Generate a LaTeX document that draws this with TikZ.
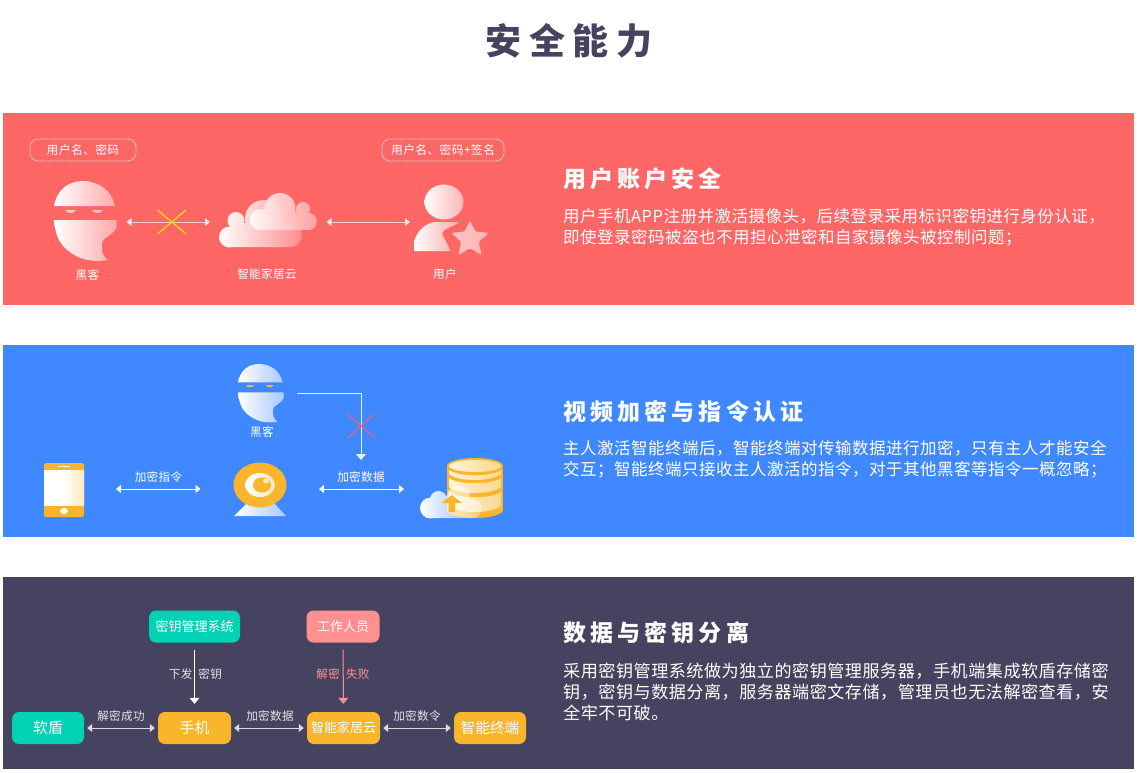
\documentclass[tikz,border=0pt]{standalone}
\usepackage{fontspec}
\setmainfont{Noto Sans CJK SC}
\newfontfamily\spacedfont[LetterSpace=3]{Noto Sans CJK SC}
\newfontfamily\headfont[LetterSpace=18]{Noto Sans CJK SC}
\newfontfamily\titlefont[LetterSpace=22]{Noto Sans CJK SC}
\usetikzlibrary{positioning, arrows.meta, fadings}
\definecolor{redpanel}{HTML}{FF6666}
\definecolor{bluepanel}{HTML}{3F88FF}
\definecolor{darkpanel}{HTML}{45435F}
\definecolor{tealbox}{HTML}{00D2B4}
\definecolor{orangebox}{HTML}{F9B52B}
\definecolor{pinkbox}{HTML}{FF9090}
\definecolor{pinklight}{HTML}{FFA8A8}
\definecolor{pinkeye}{HTML}{FFC4C4}
\definecolor{pinkfade}{HTML}{FFB4B4}
\definecolor{pinkdeep}{HTML}{FF8C8C}
\definecolor{bluelight}{HTML}{A9C9FF}
\definecolor{creamlight}{HTML}{FFF3D6}
\definecolor{creamdark}{HTML}{FBD88E}
\definecolor{creamface}{HTML}{FDE7BC}
\definecolor{crossyellow}{HTML}{FFE000}
\definecolor{crossred}{HTML}{FF5A6E}
\tikzfading[name=cloudfade, left color=transparent!0, right color=transparent!65]
\tikzset{
    heading/.style={anchor=west, inner sep=0, text=white, font=\fontsize{23}{26}\selectfont\headfont\bfseries},
    bodytext/.style={anchor=west, inner sep=0, text=white, align=left, font=\fontsize{16.5}{21}\selectfont\spacedfont},
    widetext/.style={anchor=west, inner sep=0, text=white, align=left, font=\fontsize{17.1}{21}\selectfont\spacedfont},
    smalltext/.style={inner sep=0, text=white, font=\fontsize{11.6}{13}\selectfont\spacedfont},
    dashbox/.style={draw=white, densely dotted, line width=.9pt, rounded corners=8pt, minimum height=22pt, inner sep=0, text=white, font=\fontsize{11.8}{13}\selectfont\spacedfont},
    flowbox/.style={rounded corners=7pt, minimum height=32pt, inner sep=0, text=white},
    biarrow/.style={{Triangle[width=8pt,length=5pt]}-{Triangle[width=8pt,length=5pt]}, line width=.8pt},
    downarrow/.style={-{Triangle[width=10pt,length=6pt]}, line width=1pt},
    pics/hacker/.style n args={2}{code={
        \shade[left color=white, right color=#1]
            (0,25) .. controls (3,8) and (15,0) .. (29,0) .. controls (45,0) and (58,10) .. (61,25) -- cycle
            (0,39) -- (62.5,39) -- (62.5,47) .. controls (58,55) and (49,56) .. (48,62) .. controls (47,70) and (49,76) .. (54,79) .. controls (42,81) and (25,81) .. (10,66) .. controls (3,58) and (1,50) .. (0,39) -- cycle;
        \fill[#2] (11,29) .. controls (13,33) and (20,33) .. (22,29) -- cycle;
        \fill[#2] (38,29) .. controls (40,33) and (47,33) .. (49,29) -- cycle;
    }},
}
\begin{document}
\begin{tikzpicture}[x=1pt, y=-1pt]
    \useasboundingbox (0,0) rectangle (1140,772);
    \node (title) at (569,41) [inner sep=0, text=darkpanel, font=\fontsize{36}{40}\selectfont\titlefont\bfseries] {安全能力};

    % account panel
    \fill[redpanel] (3,113) rectangle (1134,305);
    \node (acchead) at (563,179) [heading] {用户账户安全};
    \node (acctext) at (563,227.5) [bodytext] {用户手机APP注册并激活摄像头，后续登录采用标识密钥进行身份认证，\\即使登录密码被盗也不用担心泄密和自家摄像头被控制问题；};
    \node (hackerpass) at (83,150) [dashbox, minimum width=106pt] {用户名、密码};
    \node (userpass) at (443,150) [dashbox, minimum width=122pt] {用户名、密码+签名};
    \pic at (54,181) {hacker={pinklight}{pinkeye}};
    \node (hackerlabel) at (87.5,275) [smalltext] {黑客};
    \shade[left color=white, right color=pinkdeep]
        (229.5,237) circle [radius=10.5] (236,220.5) circle [radius=8.5] (263.5,218.5) circle [radius=18.5] (290,235) circle [radius=12]
        (290,223) rectangle (229.5,247);
    \shade[left color=white, right color=pinklight, opacity=.9]
        (260.5,219.5) circle [radius=10.5] (280,208.5) circle [radius=15.5] (303,209) circle [radius=7] (308.5,221.5) circle [radius=8.5]
        (308.5,212) rectangle (260.5,230);
    \node (cloudlabel) at (267,274.5) [smalltext] {智能家居云};
    \shade[left color=white, right color=pinkfade] (444,202) ellipse [x radius=19.5, y radius=17.5];
    \shade[left color=white, right color=pinklight]
        (414,251) -- (414,243) .. controls (416,230) and (428,222) .. (436,222) -- (459,222) .. controls (452,228) and (444,228) .. (442,233) .. controls (444,240) and (449,245) .. (450,251) -- cycle;
    \shade[left color=pinkeye, right color=pinkfade, rounded corners=2.5pt]
        (470,220) -- (475.3,231.7) -- (489,232.8) -- (478.6,241.8) -- (481.8,255.2) -- (470,248) -- (458.2,255.2) -- (461.4,241.8) -- (451,232.8) -- (464.7,231.7) -- cycle;
    \node (userlabel) at (445,274) [smalltext] {用户};
    \coordinate (hackerright) at (126.5,222);
    \coordinate (cloudleft) at (210,222);
    \coordinate (cloudright) at (326.5,222);
    \coordinate (userleft) at (410,222);
    \draw[biarrow, white, draw opacity=.65, fill opacity=.8] (hackerright) -- (cloudleft);
    \draw[biarrow, white, draw opacity=.65, fill opacity=.8] (cloudright) -- (userleft);
    \draw[crossyellow, line width=1.2pt] (157.5,210) -- (186,234) (157.5,234) -- (186,210);

    % video panel
    \fill[bluepanel] (3,345) rectangle (1134,537);
    \node (videohead) at (563,412) [heading] {视频加密与指令认证};
    \node (videotext) at (563,459.5) [bodytext] {主人激活智能终端后，智能终端对传输数据进行加密，只有主人才能安全\\交互；智能终端只接收主人激活的指令，对于其他黑客等指令一概忽略；};
    \pic[scale=.73] at (238,364) {hacker={bluelight}{orangebox}};
    \node (hackerbelow) at (262,432) [smalltext] {黑客};
    % phone
    \fill[orangebox, rounded corners=2pt] (44,463) rectangle (84,517);
    \shade[left color=white, right color=creamface, middle color=white] (44,470) rectangle (84,505);
    \fill[white] (58,465.5) rectangle (70,467);
    \fill[white] (64,511) ellipse [x radius=4, y radius=3];
    % camera
    \shade[left color=white, right color=bluelight] (234,516) -- (247,503) -- (274,503) -- (286,516) -- cycle;
    \fill[orangebox] (260,485) ellipse [x radius=26.5, y radius=22.5];
    \shade[left color=white, right color=creamface] (260,485) ellipse [x radius=15, y radius=12];
    \fill[orangebox] (262,485) ellipse [x radius=9, y radius=7.5];
    \fill[creamface] (266,481) ellipse [x radius=3, y radius=2.5];
    % database
    \fill[orangebox] (447,466) rectangle (503,510);
    \fill[orangebox] (475,466) ellipse [x radius=28, y radius=8];
    \fill[orangebox] (475,510) ellipse [x radius=28, y radius=8];
    \shade[left color=creamlight, right color=creamdark] (475,466) ellipse [x radius=26, y radius=6];
    \foreach \bandy/\bandh in {470/4, 478/9, 492/14}{
        \shade[left color=creamlight, right color=creamdark] (449,\bandy) .. controls (458,\bandy+7) and (492,\bandy+7) .. (501,\bandy) -- (501,\bandy+\bandh) .. controls (492,\bandy+\bandh+8) and (458,\bandy+\bandh+8) .. (449,\bandy+\bandh) -- cycle;
    }
    \fill[white, path fading=cloudfade]
        (430.5,508) circle [radius=10.5] (438.5,499.5) circle [radius=8.5] (458.5,498) circle [radius=12] (472,508.5) circle [radius=9.5]
        (472,499) rectangle (430.5,518);
    \fill[orangebox] (441.5,503) -- (451.7,495) -- (462,503) -- (455,503) -- (455,512) -- (448.5,512) -- (448.5,503) -- cycle;
    \coordinate (phoneright) at (116,489);
    \coordinate (cameraleft) at (200.5,489);
    \coordinate (cameraright) at (319,489);
    \coordinate (storeleft) at (404,489);
    \node (cmdlabel) at (158.5,477) [smalltext] {加密指令};
    \node (datalabel) at (361,477) [smalltext] {加密数据};
    \draw[biarrow, white] (phoneright) -- (cameraleft);
    \draw[biarrow, white] (cameraright) -- (storeleft);
    \coordinate (attackstart) at (297,393);
    \coordinate (attackend) at (361,460);
    \draw[downarrow, white!85!bluepanel] (attackstart) -| (attackend);
    \draw[crossred, line width=1pt] (347.5,414) -- (374.5,438) (347.5,438) -- (374.5,414);

    % key panel
    \fill[darkpanel] (3,577) rectangle (1134,769);
    \node (keyhead) at (563,633) [heading] {数据与密钥分离};
    \node (keytext) at (563,692) [widetext] {采用密钥管理系统做为独立的密钥管理服务器，手机端集成软盾存储密\\钥，密钥与数据分离，服务器端密文存储，管理员也无法解密查看，安\\全牢不可破。};
    \node (keymgr) at (194.5,626.5) [flowbox, fill=tealbox, minimum width=91pt, font=\fontsize{13}{15}\selectfont] {密钥管理系统};
    \node (staff) at (343,626.5) [flowbox, fill=pinkbox, minimum width=73pt, font=\fontsize{13}{15}\selectfont] {工作人员};
    \node (shield) at (48,728) [flowbox, fill=tealbox, minimum width=72pt, font=\fontsize{15}{17}\selectfont] {软盾};
    \node (phone) at (194.5,728) [flowbox, fill=orangebox, minimum width=73pt, font=\fontsize{15}{17}\selectfont] {手机};
    \node (cloud) at (343.5,728) [flowbox, fill=orangebox, minimum width=73pt, font=\fontsize{13}{15}\selectfont] {智能家居云};
    \node (device) at (490,728) [flowbox, fill=orangebox, minimum width=72pt, font=\fontsize{14.7}{16}\selectfont] {智能终端};
    \node (oklabel) at (121,716) [smalltext, text=white!85!darkpanel] {解密成功};
    \node (dataup) at (270,716) [smalltext, text=white!85!darkpanel] {加密数据};
    \node (cmdup) at (417,716) [smalltext, text=white!85!darkpanel] {加密数令};
    \node (issue) at (195.5,674) [smalltext, text=white!85!darkpanel] {下发\hspace{6pt}密钥};
    \node (fail) at (343,674) [smalltext, text=pinkbox] {解密\hspace{6pt}失败};
    \draw[biarrow, white!80!darkpanel, shorten <=3pt, shorten >=3pt] (shield) -- (phone);
    \draw[biarrow, white!80!darkpanel, shorten <=3pt, shorten >=3pt] (phone) -- (cloud);
    \draw[biarrow, white!80!darkpanel, shorten <=3pt, shorten >=3pt] (cloud) -- (device);
    \draw[downarrow, white, shorten <=7pt, shorten >=8pt] (keymgr) -- (phone);
    \draw[downarrow, pinkbox, shorten <=7pt, shorten >=8pt] (staff) -- (cloud);
\end{tikzpicture}
\end{document}
